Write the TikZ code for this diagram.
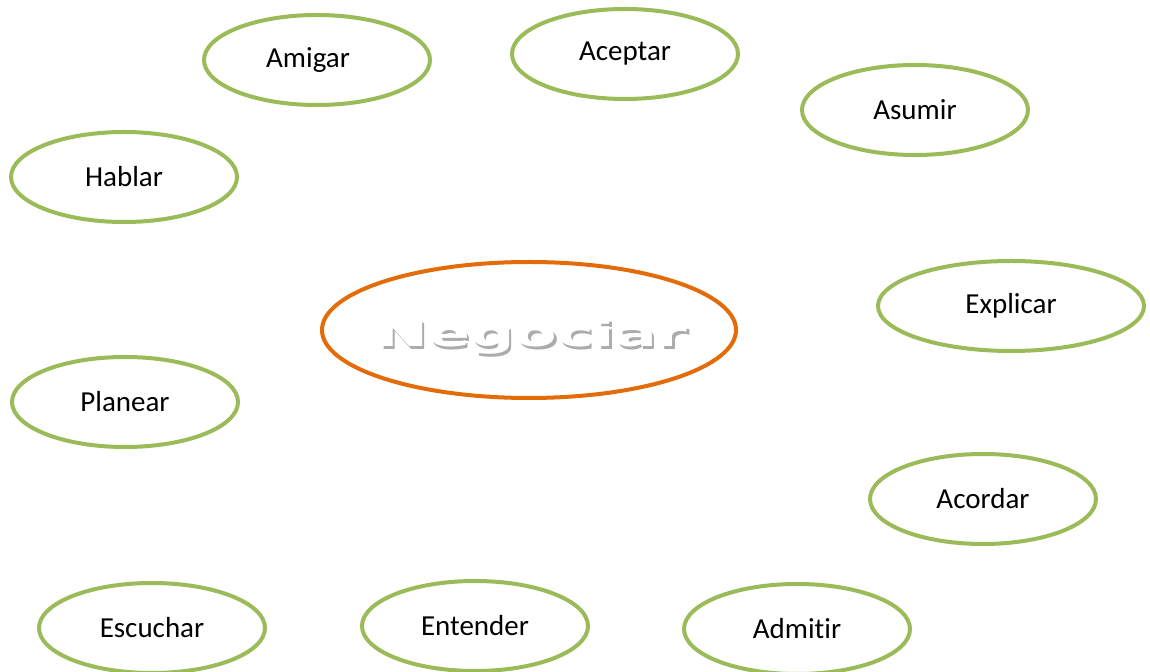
\documentclass[tikz,border=0pt]{standalone}
\usepackage{fontspec}
\setmainfont[Ligatures=NoCommon]{Carlito}
\newfontfamily\artfont[FakeStretch=1.72]{DejaVu Sans}
\usetikzlibrary{shapes.geometric}
\definecolor{verbgreen}{HTML}{9BBB59}
\definecolor{mainorange}{HTML}{E36C09}
\tikzset{
  verb/.style={ellipse,draw=verbgreen,line width=2pt,minimum width=113pt,minimum height=45pt,font=\fontsize{14.5}{17}\selectfont,inner sep=0pt},
  artword/.style={font=\artfont\bfseries\fontsize{18}{20}\selectfont,inner sep=0pt}
}
\newcommand{\shadowword}[1]{\rlap{\hspace{1.2pt}\raisebox{-1.6pt}{\color{gray!65}#1}}#1}
\begin{document}
\begin{tikzpicture}[x=0.5pt,y=-0.5pt]
\useasboundingbox (0,0) rectangle (1150,672);
% centre
\node[ellipse,draw=mainorange,line width=2pt,minimum width=207pt,minimum height=68pt] (negociar) at (529,330) {};
\node[artword,text=white] (title) at (532,338) {\shadowword{Negociar}};
% verbs around it
\node[verb] (amigar) at (317,60) {\hspace{-9pt}Amigar};
\node[verb] (aceptar) at (625,54) {Aceptar};
\node[verb] (asumir) at (915,110) {Asumir};
\node[verb] (hablar) at (124,177) {Hablar};
\node[verb,minimum width=133pt] (explicar) at (1011,306) {Explicar};
\node[verb] (planear) at (125,402) {Planear};
\node[verb] (acordar) at (983,499) {Acordar};
\node[verb] (escuchar) at (152,628) {Escuchar};
\node[verb] (entender) at (475,626) {Entender};
\node[verb] (admitir) at (797,629) {Admitir};
\end{tikzpicture}
\end{document}
